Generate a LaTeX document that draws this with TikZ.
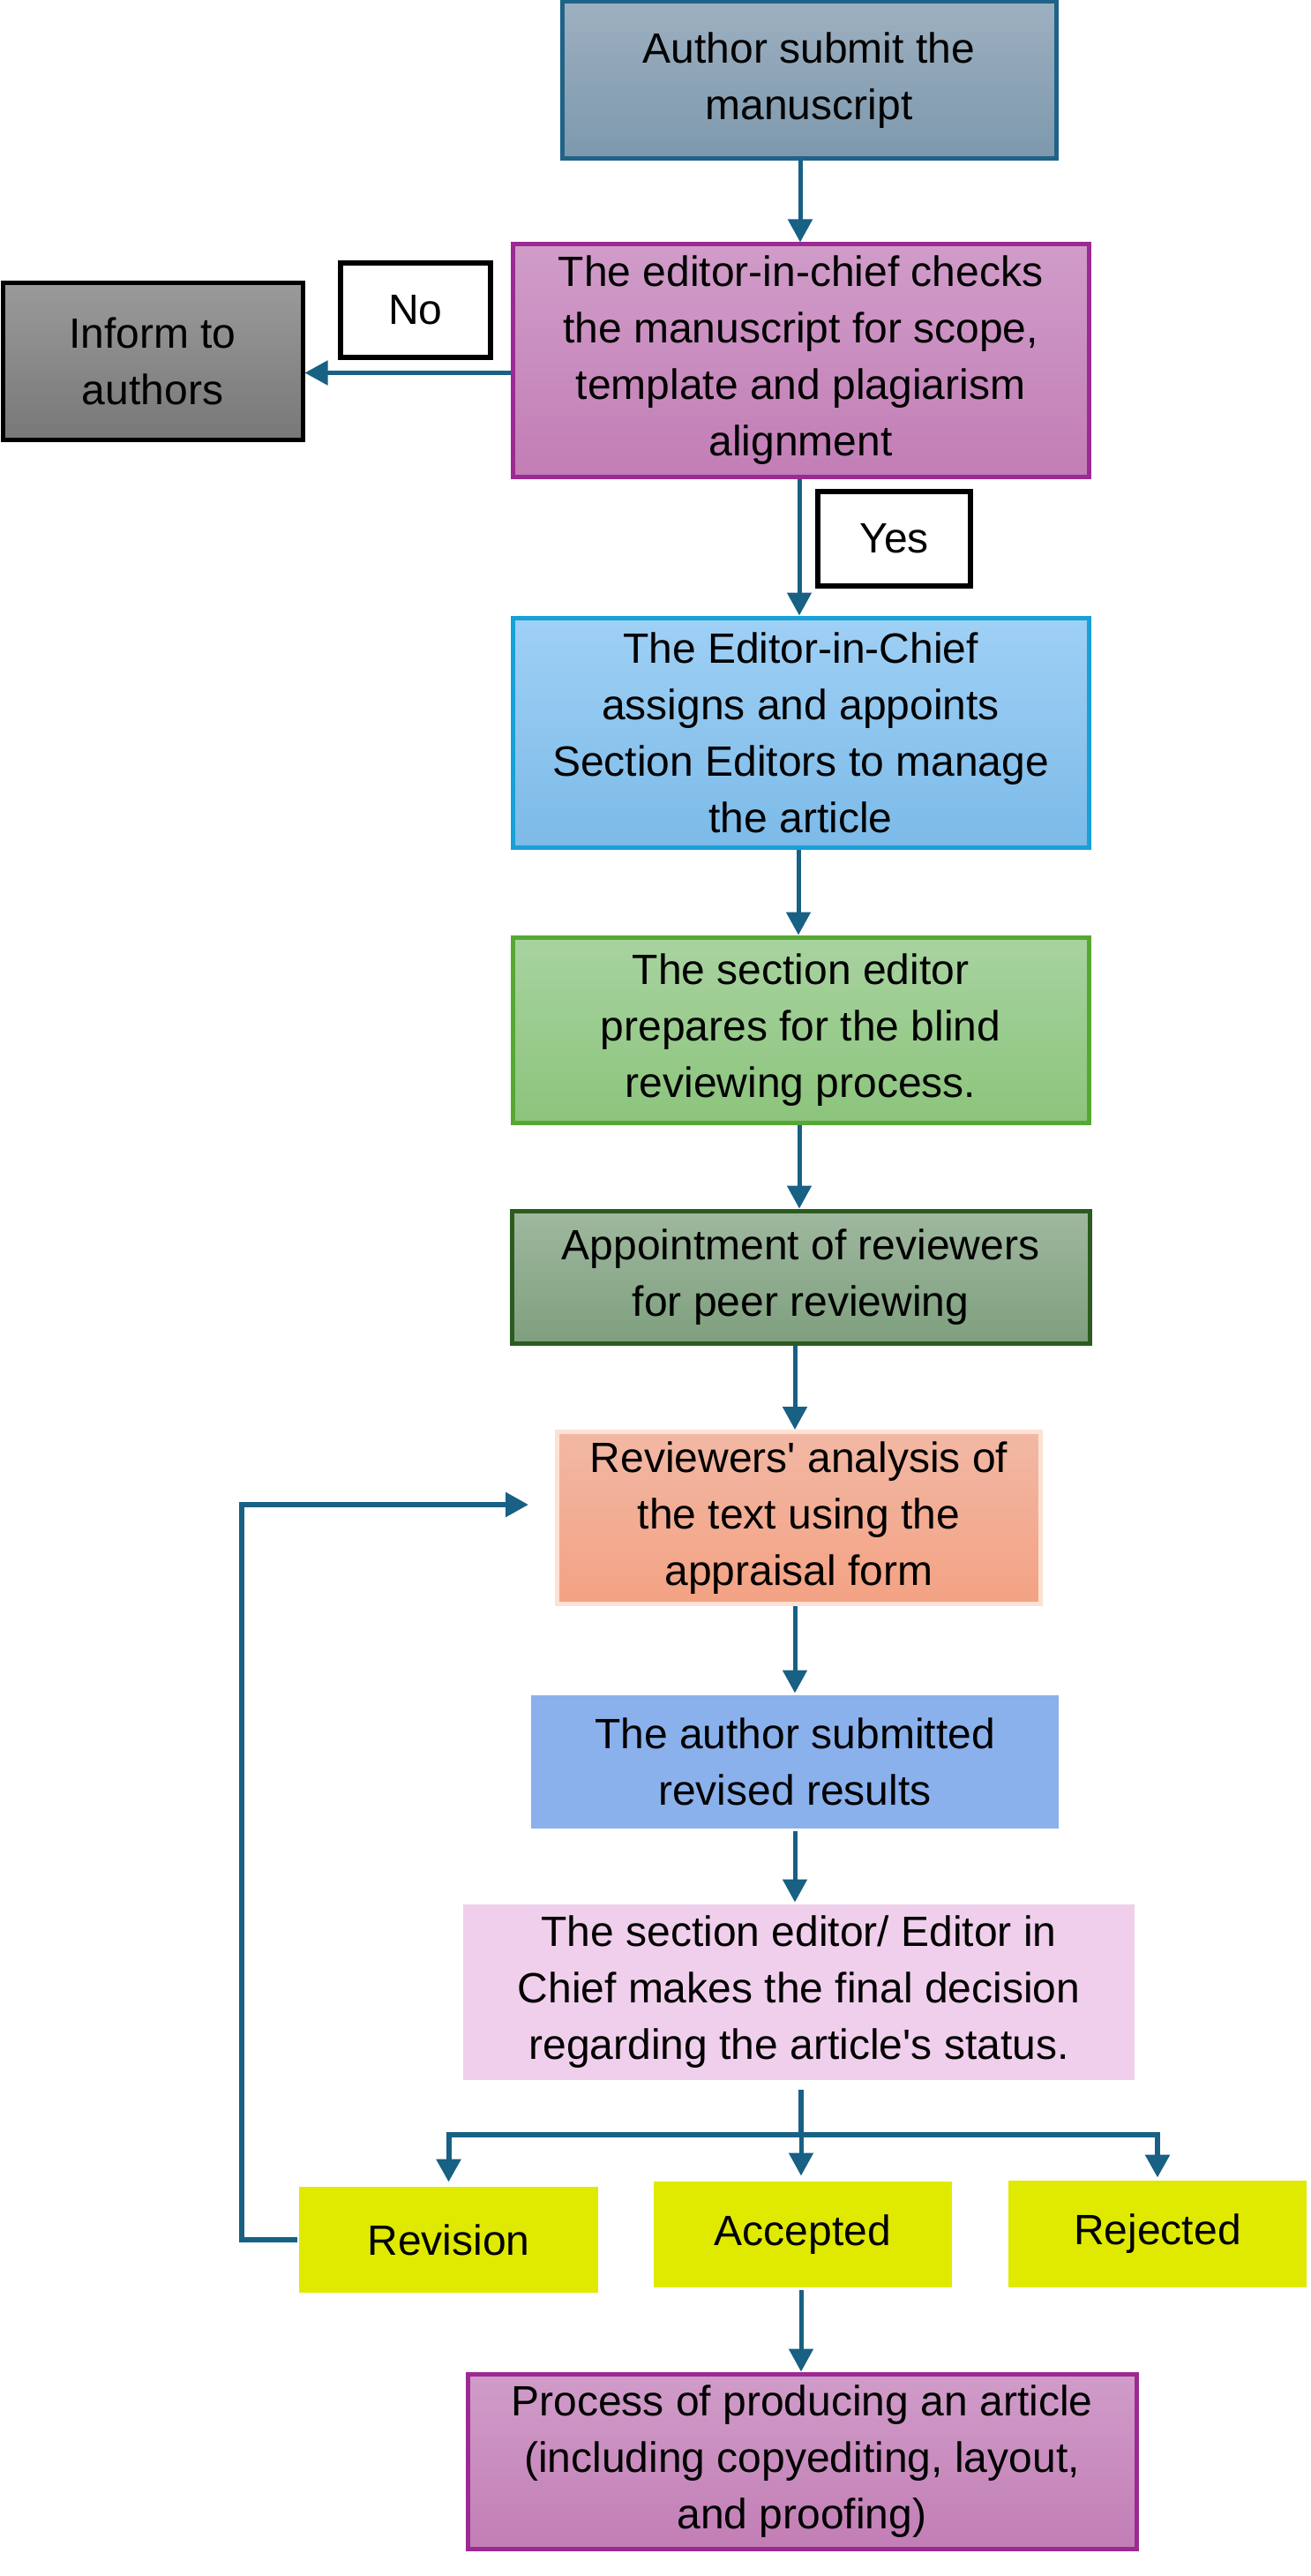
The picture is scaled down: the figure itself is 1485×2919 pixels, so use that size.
\documentclass[tikz,border=0pt]{standalone}
\usepackage{fontspec}
\setmainfont{Liberation Sans}
\usetikzlibrary{arrows.meta}
\definecolor{arrc}{RGB}{24,96,132}
\definecolor{aTop}{HTML}{9DB0C0}\definecolor{aBot}{HTML}{7D98AD}\definecolor{aBrd}{HTML}{1F6388}
\definecolor{pTop}{HTML}{D09CC9}\definecolor{pBot}{HTML}{C27EB5}\definecolor{pBrd}{HTML}{9C2A93}
\definecolor{gTop}{HTML}{9A9A9A}\definecolor{gBot}{HTML}{787878}
\definecolor{bTop}{HTML}{9FD0F5}\definecolor{bBot}{HTML}{7CBAE8}\definecolor{bBrd}{HTML}{18A0D8}
\definecolor{lTop}{HTML}{A8D3A0}\definecolor{lBot}{HTML}{8CC47C}\definecolor{lBrd}{HTML}{56A832}
\definecolor{dTop}{HTML}{9FB89F}\definecolor{dBot}{HTML}{7E9F7E}\definecolor{dBrd}{HTML}{2C5B1E}
\definecolor{sTop}{HTML}{F2B8A4}\definecolor{sBot}{HTML}{F3A283}\definecolor{sBrd}{HTML}{FCE2D4}
\definecolor{blueTwo}{HTML}{8AB1EC}
\definecolor{decFill}{HTML}{F0CFEC}
\definecolor{yel}{HTML}{E0EA00}
\begin{document}
\begin{tikzpicture}[x=1pt,y=-1pt,
  box/.style={rectangle, inner sep=0pt, align=center, font=\fontsize{48}{64}\selectfont, line width=5pt},
  arr/.style={-{Triangle[width=27pt,length=26pt]}, line width=5pt, draw=arrc},
  conn/.style={line width=6pt, draw=arrc},
  lbl/.style={rectangle, draw=black, fill=white, line width=6pt, inner sep=0pt, font=\fontsize{48}{64}\selectfont}
]
\useasboundingbox[fill=white] (0,0) rectangle (1485,2919);

\node[box, draw=aBrd, top color=aTop, bottom color=aBot, minimum width=560pt, minimum height=178pt] (b1) at (917,91) {Author submit the\\manuscript};
\node[box, draw=pBrd, top color=pTop, bottom color=pBot, minimum width=653pt, minimum height=263pt] (b2) at (907.5,408.5) {The editor-in-chief checks\\the manuscript for scope,\\template and plagiarism\\alignment};
\node[box, draw=black, top color=gTop, bottom color=gBot, minimum width=340pt, minimum height=177pt] (inf) at (173,409.5) {Inform to\\authors};
\node[lbl, minimum width=170pt, minimum height=107pt] (no) at (471,351.5) {No};
\node[lbl, minimum width=173pt, minimum height=107pt] (yes) at (1013.5,610.5) {Yes};
\node[box, draw=bBrd, top color=bTop, bottom color=bBot, minimum width=653pt, minimum height=260pt] (b3) at (907.5,830) {The Editor-in-Chief\\assigns and appoints\\Section Editors to manage\\the article};
\node[box, draw=lBrd, top color=lTop, bottom color=lBot, minimum width=653pt, minimum height=210pt] (b4) at (907.5,1167) {The section editor\\prepares for the blind\\reviewing process.};
\node[box, draw=dBrd, top color=dTop, bottom color=dBot, minimum width=655pt, minimum height=150pt] (b5) at (907.5,1447) {Appointment of reviewers\\for peer reviewing};
\node[box, draw=sBrd, top color=sTop, bottom color=sBot, minimum width=548pt, minimum height=195pt] (b6) at (905.5,1720) {Reviewers\textquotesingle\ analysis of\\the text using the\\appraisal form};
\node[box, fill=blueTwo, minimum width=598pt, minimum height=151pt] (b7) at (901,1996.5) {The author submitted\\revised results};
\node[box, fill=decFill, minimum width=761pt, minimum height=199pt] (b8) at (905.5,2257.5) {The section editor/ Editor in\\Chief makes the final decision\\regarding the article\textquotesingle s status.};
\node[box, fill=yel, minimum width=339pt, minimum height=120pt] (rev) at (508.5,2538) {Revision};
\node[box, fill=yel, minimum width=338pt, minimum height=120pt] (acc) at (910,2532) {Accepted};
\node[box, fill=yel, minimum width=338pt, minimum height=121pt] (rej) at (1312,2531.5) {Rejected};
\node[box, draw=pBrd, top color=pTop, bottom color=pBot, minimum width=758pt, minimum height=198pt] (b9) at (909,2789) {Process of producing an article\\(including copyediting, layout,\\and proofing)};

\coordinate (br) at (908,2419);

\draw[arr] (b1.south -| 907,0) -- (b2.north -| 907,0);
\draw[arr] ([yshift=-14pt]b2.west) -- ([yshift=-13pt]inf.east);
\draw[arr] (b2.south -| 906,0) -- (b3.north -| 906,0);
\draw[arr] (b3.south -| 905,0) -- (b4.north -| 905,0);
\draw[arr] (b4.south -| 906,0) -- (b5.north -| 906,0);
\draw[arr] (b5.south -| 901,0) -- (b6.north -| 901,0);
\draw[arr] (b6.south -| 901,0) -- (b7.north -| 901,0);
\draw[arr] (b7.south -| 901,0) -- (b8.north -| 901,0);
\draw[conn] ([yshift=-8pt]b8.south -| br) -- (br);
\draw[arr] (br) -- ([yshift=4pt]acc.north -| br);
\draw[arr, line width=6pt] (br) -| ([yshift=3pt]rev.north);
\draw[arr, line width=6pt] (br) -| ([yshift=1pt]rej.north);
\draw[arr, line width=6pt] (rev.west) -- ++(-63,0) |- ([xshift=-30pt,yshift=15pt]b6.west);
\draw[arr] (acc.south -| 908,0) -- (b9.north -| 908,0);
\end{tikzpicture}
\end{document}
